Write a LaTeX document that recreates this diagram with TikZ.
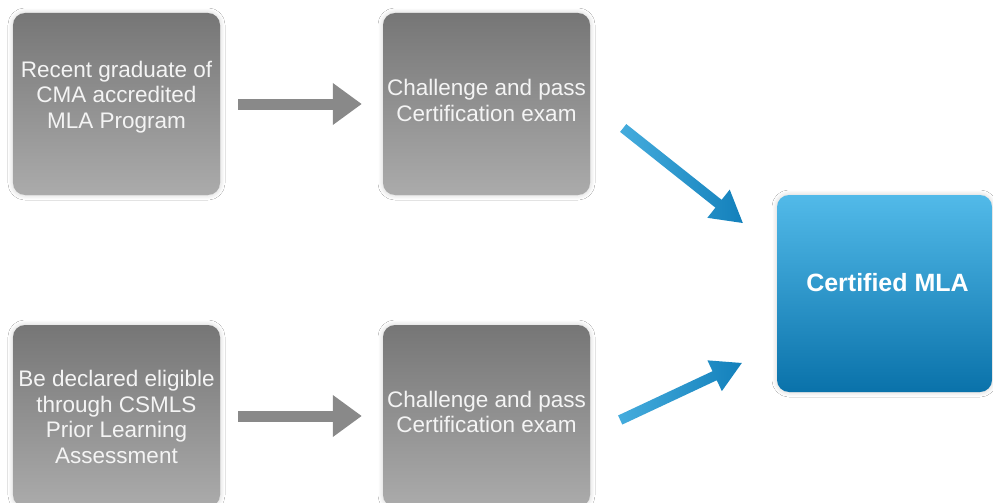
\documentclass[tikz,border=0pt]{standalone}
\usepackage{fontspec}
\setmainfont{Liberation Sans}
\usetikzlibrary{arrows.meta,calc,shadows.blur}
\definecolor{gtop}{HTML}{767676}
\definecolor{gbot}{HTML}{ABABAB}
\definecolor{btop}{HTML}{52BAE9}
\definecolor{bbot}{HTML}{0A72AA}
\definecolor{garrow}{HTML}{898989}
\definecolor{alight}{HTML}{45ACDD}
\definecolor{adark}{HTML}{1380BB}
\definecolor{boxtext}{HTML}{F4F4F4}
\tikzset{
  boxshadow/.style={blur shadow={shadow blur radius=5pt, shadow blur steps=10, shadow xshift=0pt, shadow yshift=0pt, shadow opacity=18}},
  graybox/.style={rounded corners=12pt, minimum width=207pt, minimum height=182pt, inner sep=0pt,
    top color=gtop, bottom color=gbot, draw=none, boxshadow},
  certbox/.style={rounded corners=12pt, minimum width=215pt, minimum height=197pt, inner sep=0pt,
    top color=btop, bottom color=bbot, draw=none, boxshadow},
  boxlabel/.style={text=boxtext, align=center, font=\fontsize{22.5}{25.5}\selectfont, inner sep=0pt},
  certlabel/.style={text=white, font=\bfseries\fontsize{25}{28}\selectfont, inner sep=0pt},
  grayarrow/.style={draw=garrow, line width=11pt, -{Triangle[length=29pt,width=40pt]}},
  bluearrow/.style={left color=alight, right color=adark, draw=none},
}
\begin{document}
\begin{tikzpicture}[x=1pt,y=-1pt]
\useasboundingbox (0,0) rectangle (993,503);
\fill[white] (0,0) rectangle (993,503);

\node[graybox] (b1) at (116.5,104) {};
\node[graybox] (b2) at (486.5,104) {};
\node[graybox] (b3) at (116.5,416) {};
\node[graybox] (b4) at (486.5,416) {};
\node[certbox] (c) at (884.5,293.5) {};

\node[boxlabel] (t1) at ($(b1.center)+(0,-7)$) {Recent graduate of\\CMA accredited\\MLA Program};
\node[boxlabel] (t2) at ($(b2.center)+(0,-3.5)$) {Challenge and pass\\Certification exam};
\node[boxlabel] (t3) at ($(b3.center)+(0,1)$) {Be declared eligible\\through CSMLS\\Prior Learning\\Assessment};
\node[boxlabel] (t4) at ($(b4.center)+(0,-4)$) {Challenge and pass\\Certification exam};
\node[certlabel] (ct) at ($(c.center)+(3,-10.5)$) {Certified MLA};

\draw[grayarrow, shorten <=18pt, shorten >=21pt] (b1.east) -- (b2.west);
\draw[grayarrow, shorten <=18pt, shorten >=21pt] (b3.east) -- (b4.west);

\coordinate (s1) at ($(b2.east)+(33,24)$);
\coordinate (e1) at ($(c.west)+(-34,-70.5)$);
\coordinate (s2) at ($(b4.east)+(30,4)$);
\coordinate (e2) at ($(c.west)+(-35,69.5)$);
\coordinate (n1) at ($(e1)!31pt!(s1)$);
\coordinate (n2) at ($(e2)!30pt!(s2)$);

\shade[bluearrow] ($(s1)!5pt!90:(e1)$) -- ($(n1)!5pt!90:(e1)$) -- ($(n1)!18pt!90:(e1)$) -- (e1)
  -- ($(n1)!18pt!-90:(e1)$) -- ($(n1)!5pt!-90:(e1)$) -- ($(s1)!5pt!-90:(e1)$) -- cycle;
\shade[bluearrow] ($(s2)!5pt!90:(e2)$) -- ($(n2)!5pt!90:(e2)$) -- ($(n2)!17pt!90:(e2)$) -- (e2)
  -- ($(n2)!17pt!-90:(e2)$) -- ($(n2)!5pt!-90:(e2)$) -- ($(s2)!5pt!-90:(e2)$) -- cycle;
\end{tikzpicture}
\end{document}
